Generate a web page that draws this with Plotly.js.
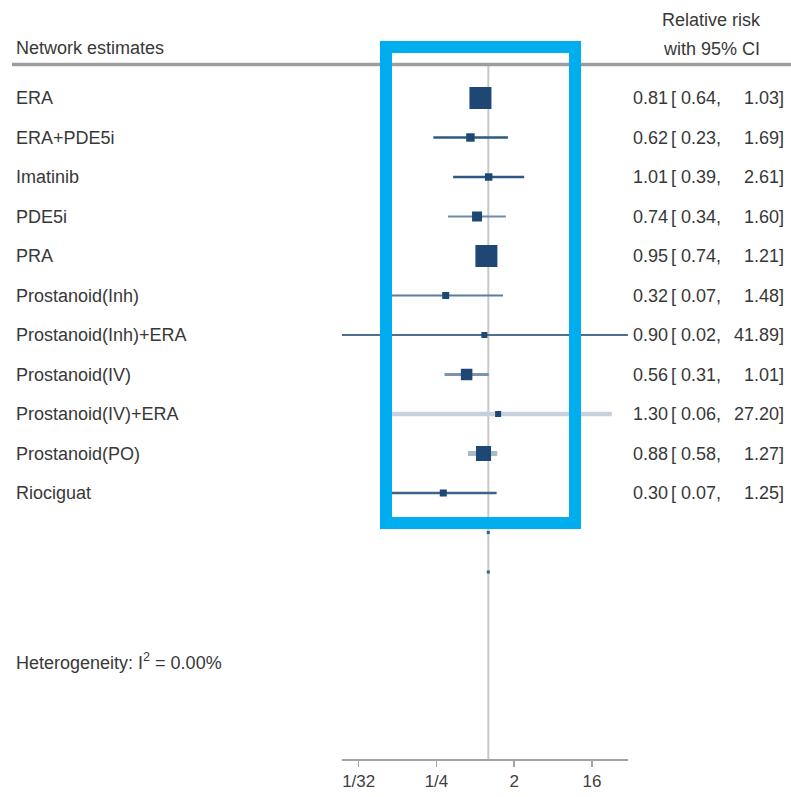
<!DOCTYPE html>
<html>
<head>
<meta charset="utf-8">
<script src="https://cdn.plot.ly/plotly-3.0.1.min.js"></script>
<style>
  html, body { margin: 0; padding: 0; background: #ffffff; }
  #chart { width: 791px; height: 797px; }
</style>
</head>
<body>
<div id="chart"></div>
<script>
// ---------------- data ----------------
const labels = ["ERA", "ERA+PDE5i", "Imatinib", "PDE5i", "PRA", "Prostanoid(Inh)",
  "Prostanoid(Inh)+ERA", "Prostanoid(IV)", "Prostanoid(IV)+ERA", "Prostanoid(PO)", "Riociguat"];
const estimates = [0.81, 0.62, 1.01, 0.74, 0.95, 0.32, 0.90, 0.56, 1.30, 0.88, 0.30];
const lowerCI   = [0.64, 0.23, 0.39, 0.34, 0.74, 0.07, 0.02, 0.31, 0.06, 0.58, 0.07];
const upperCI   = [1.03, 1.69, 2.61, 1.60, 1.21, 1.48, 41.89, 1.01, 27.20, 1.27, 1.25];
// estimated relative weights (%)
const weights   = [28.5, 4.2, 3.3, 5.9, 28.5, 2.9, 1.2, 7.8, 1.5, 13.3, 2.9];
// two empty rows below the list, drawn as tiny marks at RR = 1
const extraRowEst = [1, 1];
const tickVals = [1/32, 1/4, 2, 16];
const tickText = ["1/32", "1/4", "2", "16"];
const heterogeneityText = "Heterogeneity: I<sup>2</sup> = 0.00%";
const headerLeft = "Network estimates";
const headerRight = ["Relative risk", "with 95% CI"];

// ---------------- styles / layout constants ----------------
const W = 791, H = 797;
const px = v => v / W;
const py = v => 1 - v / H;
const rowTop = 98, rowStep = 39.5, axisY = 759, plotTopY = 65;
const ciColors = ["#2b5580", "#2d5a85", "#2d5a85", "#6f8cab", "#2b5580", "#5a7da0",
  "#4d6f93", "#7a94af", "#c6d1dd", "#a9bacb", "#3e6389"];
const ciWidths = [2.5, 2.5, 2.5, 2, 2.5, 2, 2, 3, 4.5, 5, 2.5];
const boxColor = "#1e4873";
const textColor = "#383838";
const fontFam = "Liberation Sans, Arial, Helvetica, sans-serif";
const maxBoxPx = 22;

const rows = labels.map((_, i) => i);
const traces = [];
rows.forEach(i => {
  traces.push({
    type: "scatter", mode: "lines",
    x: [lowerCI[i], upperCI[i]], y: [i, i],
    line: { color: ciColors[i], width: ciWidths[i] },
    hoverinfo: "skip", showlegend: false
  });
});
traces.push({
  type: "scatter", mode: "markers",
  x: estimates, y: rows,
  marker: { symbol: "square", size: weights, sizemode: "area",
            sizeref: 2 * Math.max(...weights) / (maxBoxPx * maxBoxPx), sizemin: 3,
            color: boxColor, opacity: 1, line: { width: 0 } },
  showlegend: false, hoverinfo: "x"
});
traces.push({
  type: "scatter", mode: "markers",
  x: extraRowEst, y: extraRowEst.map((_, k) => labels.length + k),
  marker: { symbol: "square", size: 3, color: "#3a5a80", opacity: 1, line: { width: 0 } },
  showlegend: false, hoverinfo: "skip"
});

const fmt = v => v.toFixed(2);
const annotations = [];
const tfont = { family: fontFam, size: 18, color: textColor };
labels.forEach((lab, i) => {
  annotations.push({ text: lab, xref: "paper", yref: "y", x: px(14), y: i,
    xanchor: "left", yanchor: "middle", showarrow: false, font: tfont });
  annotations.push({ text: fmt(estimates[i]), xref: "paper", yref: "y", x: px(670), y: i,
    xanchor: "right", yanchor: "middle", showarrow: false, font: tfont });
  annotations.push({ text: "[ " + fmt(lowerCI[i]) + ",", xref: "paper", yref: "y", x: px(669), y: i,
    xanchor: "left", yanchor: "middle", showarrow: false, font: tfont });
  annotations.push({ text: fmt(upperCI[i]) + "]", xref: "paper", yref: "y", x: px(786), y: i,
    xanchor: "right", yanchor: "middle", showarrow: false, font: tfont });
});
annotations.push({ text: headerLeft, xref: "paper", yref: "paper", x: px(14), y: py(48),
  xanchor: "left", yanchor: "middle", showarrow: false, font: tfont });
annotations.push({ text: headerRight[0], xref: "paper", yref: "paper", x: px(711), y: py(20),
  xanchor: "center", yanchor: "middle", showarrow: false, font: tfont });
annotations.push({ text: headerRight[1], xref: "paper", yref: "paper", x: px(711), y: py(49),
  xanchor: "center", yanchor: "middle", showarrow: false, font: tfont });
annotations.push({ text: heterogeneityText, xref: "paper", yref: "paper", x: px(14), y: py(661),
  xanchor: "left", yanchor: "middle", showarrow: false, font: tfont });

const xMin = Math.min(...lowerCI), xMax = Math.max(...upperCI);

const layout = {
  width: W, height: H,
  margin: { l: 0, r: 0, t: 0, b: 0, pad: 0 },
  paper_bgcolor: "#ffffff", plot_bgcolor: "#ffffff",
  showlegend: false,
  xaxis: {
    type: "log", domain: [px(342), px(628)],
    range: [Math.log10(xMin), Math.log10(xMax)],
    tickvals: tickVals, ticktext: tickText,
    showline: true, linecolor: "#a3a3a3", linewidth: 2,
    ticks: "outside", ticklen: 6, tickwidth: 1.5, tickcolor: "#a3a3a3",
    showgrid: false, zeroline: false,
    tickfont: { family: fontFam, size: 17, color: "#404040" }
  },
  yaxis: {
    domain: [py(axisY), py(plotTopY)],
    range: [(axisY - rowTop) / rowStep, (plotTopY - rowTop) / rowStep],
    visible: false, showgrid: false, zeroline: false
  },
  shapes: [
    { type: "line", xref: "x", yref: "paper", x0: 1, x1: 1, y0: py(axisY), y1: py(plotTopY),
      line: { color: "#c8c8c8", width: 2 }, layer: "below" },
    { type: "line", xref: "paper", yref: "paper", x0: px(12), x1: 1, y0: py(64.5), y1: py(64.5),
      line: { color: "#9e9e9e", width: 3.5 }, layer: "above" },
    { type: "rect", xref: "paper", yref: "paper", x0: px(386), x1: px(575), y0: py(47), y1: py(523),
      line: { color: "#00aeef", width: 12 }, fillcolor: "rgba(0,0,0,0)", layer: "above" }
  ],
  annotations: annotations
};

Plotly.newPlot("chart", traces, layout, { displayModeBar: false, staticPlot: true });
</script>
</body>
</html>
